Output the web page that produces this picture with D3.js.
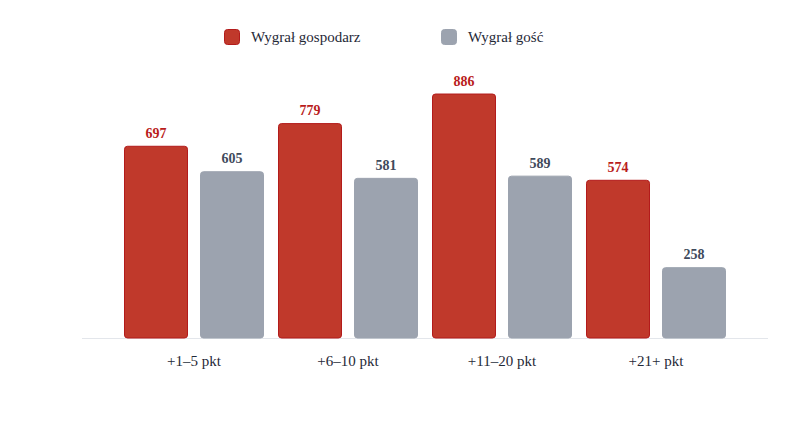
<!DOCTYPE html>
<html>
<head>
<meta charset="utf-8">
<script src="https://cdn.jsdelivr.net/npm/d3@7"></script>
<style>
  body { margin: 0; background: #fff; }
  svg, svg text { font-family: "Liberation Serif", "Times New Roman", Tinos, "DejaVu Serif", "Noto Serif", serif; }
</style>
</head>
<body>
<div id="chart"></div>
<script>
// data
var categories = ["+1–5 pkt", "+6–10 pkt", "+11–20 pkt", "+21+ pkt"];
var seriesNames = ["Wygrał gospodarz", "Wygrał gość"];
var homeWins = [697, 779, 886, 574];
var awayWins = [605, 581, 589, 258];

var width = 800;
var height = 431;
var baseY = 338.5;

var fills = ["#c0392b", "#9ca3af"];
var strokes = ["#b31b1b", "#9ca3af"];
var labelColors = ["#b91c1c", "#3f4a5c"];

var svg = d3.select("#chart")
    .append("svg")
    .attr("width", width)
    .attr("height", height);

// scales
var x0 = d3.scaleBand()
    .domain(categories)
    .range([82, 768])
    .paddingInner(14 / 154)
    .paddingOuter(42 / 154);

var x1 = d3.scaleBand()
    .domain(seriesNames)
    .range([0, x0.bandwidth()])
    .paddingInner(12 / 76)
    .paddingOuter(0);

var y = d3.scaleLinear()
    .domain([0, 1000])
    .range([baseY, 62]);

// rows for the grouped bars
var rows = categories.map(function(c, i) {
    return { cat: c, values: [homeWins[i], awayWins[i]] };
});

// baseline
svg.append("line")
    .attr("x1", 82)
    .attr("x2", 768)
    .attr("y1", baseY)
    .attr("y2", baseY)
    .attr("stroke", "#e3e6eb")
    .attr("stroke-width", 1);

var groups = svg.selectAll("g.group")
    .data(rows)
    .enter()
    .append("g")
    .attr("class", "group")
    .attr("transform", function(d) { return "translate(" + x0(d.cat) + ",0)"; });

var cells = groups.selectAll("g.cell")
    .data(function(d) {
        return d.values.map(function(v, j) { return { v: v, j: j }; });
    })
    .enter()
    .append("g");

cells.append("rect")
    .attr("x", function(d) { return x1(seriesNames[d.j]) + 0.5; })
    .attr("y", function(d) { return y(d.v) + 0.5; })
    .attr("width", x1.bandwidth() - 1)
    .attr("height", function(d) { return baseY - y(d.v) - 1; })
    .attr("rx", 3)
    .attr("fill", function(d) { return fills[d.j]; })
    .attr("stroke", function(d) { return strokes[d.j]; })
    .attr("stroke-width", 1);

// value labels above bars
cells.append("text")
    .attr("x", function(d) { return x1(seriesNames[d.j]) + x1.bandwidth() / 2; })
    .attr("y", function(d) { return y(d.v) - 8; })
    .attr("text-anchor", "middle")
    .attr("font-size", 14)
    .attr("font-weight", 700)
    .attr("fill", function(d) { return labelColors[d.j]; })
    .text(function(d) { return d.v; });

// x axis labels
var xAxis = d3.axisBottom(x0).tickSize(0).tickPadding(0);
var axisG = svg.append("g")
    .attr("transform", "translate(0," + baseY + ")")
    .call(xAxis)
    .attr("font-family", null);
axisG.select(".domain").remove();
axisG.selectAll("text")
    .attr("dy", 0)
    .attr("y", 27)
    .attr("font-size", 15)
    .attr("fill", "#1f2937");

// legend
var legendX = [224, 441];
var legend = svg.selectAll("g.legend")
    .data(seriesNames)
    .enter()
    .append("g")
    .attr("class", "legend")
    .attr("transform", function(d, i) { return "translate(" + legendX[i] + ",29)"; });

legend.append("rect")
    .attr("x", 0.5)
    .attr("y", 0.5)
    .attr("width", 15)
    .attr("height", 15)
    .attr("rx", 3)
    .attr("fill", function(d, i) { return fills[i]; })
    .attr("stroke", function(d, i) { return strokes[i]; });

legend.append("text")
    .attr("x", 27)
    .attr("y", 13)
    .attr("font-size", 15)
    .attr("fill", "#1f2937")
    .text(function(d) { return d; });
</script>
</body>
</html>
